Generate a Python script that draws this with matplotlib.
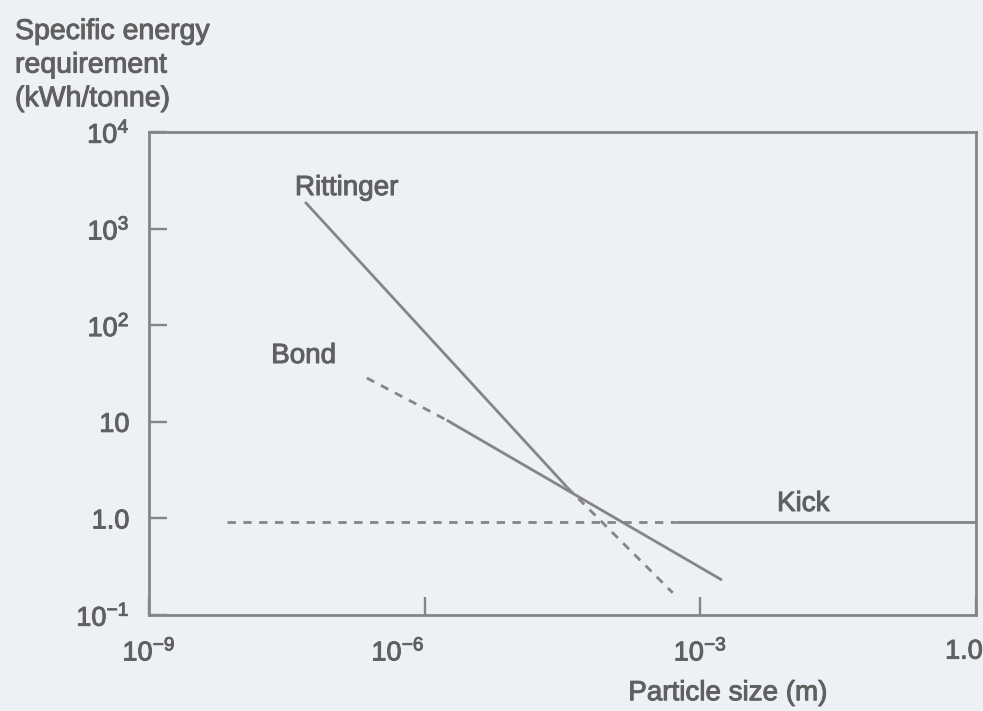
import numpy as np
import matplotlib
matplotlib.use("Agg")
import matplotlib.pyplot as plt
import matplotlib.patheffects as pe
from matplotlib.transforms import ScaledTranslation

plt.rcParams['font.family'] = ['Liberation Sans', 'DejaVu Sans']
plt.rcParams['mathtext.fontset'] = 'custom'
plt.rcParams['mathtext.rm'] = 'Liberation Sans'
plt.rcParams['mathtext.it'] = 'Liberation Sans:italic'
plt.rcParams['mathtext.bf'] = 'Liberation Sans:bold'

# comminution laws: knots along each line (particle size in m, energy in kWh/tonne)
rittinger_size = [5.0e-8, 3.55e-5, 5.0e-4]
rittinger_energy = [1885, 2.1, 0.17]
rittinger_style = ['-', '--']

bond_size = [2.35e-7, 1.74e-6, 1.72e-3]
bond_energy = [28.4, 10.4, 0.23]
bond_style = ['--', '-']

kick_size = [7.1e-9, 5.5e-4, 1.0]
kick_energy = [0.92, 0.92, 0.92]
kick_style = ['--', '-']

xticks = [1e-9, 1e-6, 1e-3, 1.0]
xticklabels = [r'$10^{-9}$', r'$10^{-6}$', r'$10^{-3}$', '1.0']
yticks = [1e-1, 1.0, 10, 1e2, 1e3, 1e4]
yticklabels = [r'$10^{-1}$', '1.0', '10', r'$10^{2}$', r'$10^{3}$', r'$10^{4}$']

bg = '#edf0f5'
ink = '#606060'
linec = '#858585'
thick = [pe.withStroke(linewidth=0.7, foreground=ink)]

fig = plt.figure(figsize=(9.83, 7.11), dpi=100, facecolor=bg)
ax = fig.add_axes([0.1516, 0.135, 0.8413, 0.6793])
ax.set_facecolor(bg)
ax.set_xscale('log')
ax.set_yscale('log')
ax.set_xlim(1e-9, 1.0)
ax.set_ylim(1e-1, 1e4)


def draw_law(sizes, energies, styles):
    for i, st in enumerate(styles):
        ax.plot(sizes[i:i + 2], energies[i:i + 2], color=linec, lw=2.0,
                linestyle=st, dashes=(3.0, 2.7) if st == '--' else (None, None),
                solid_capstyle='butt')


draw_law(rittinger_size, rittinger_energy, rittinger_style)
draw_law(bond_size, bond_energy, bond_style)
draw_law(kick_size, kick_energy, kick_style)

for txt, xs, ys in [('Rittinger', 1.41e-7, 2630), ('Bond', 4.8e-8, 48), ('Kick', 1.32e-2, 1.41)]:
    ax.text(xs, ys, txt, fontsize=20, color=ink, ha='center', va='center',
            path_effects=thick)

ax.xaxis.set_minor_locator(matplotlib.ticker.NullLocator())
ax.yaxis.set_minor_locator(matplotlib.ticker.NullLocator())
ax.set_xticks(xticks)
ax.set_xticklabels(xticklabels)
ax.set_yticks(yticks)
ax.set_yticklabels(yticklabels)
ax.tick_params(axis='both', direction='in', length=13, width=1.7, color=linec,
               labelsize=19.5, labelcolor=ink)
ax.tick_params(axis='x', pad=17)
ax.tick_params(axis='y', pad=14)
xl = ax.get_xticklabels()
xl[1].set_ha('right')
# keep the last label inside the canvas
xl[3].set_transform(xl[3].get_transform() + ScaledTranslation(-12 / 100, 0, fig.dpi_scale_trans))
for lab in xl + ax.get_yticklabels():
    lab.set_path_effects(thick)

for sp in ax.spines.values():
    sp.set_color(linec)
    sp.set_linewidth(2.0)

ax.set_xlabel('Particle size (m)', fontsize=20, color=ink, va='top', path_effects=thick)
ax.xaxis.set_label_coords(0.70, -0.135)

fig.text(15 / 983, 1 - 19 / 711, 'Specific energy\nrequirement\n(kWh/tonne)',
         fontsize=20.5, color=ink, ha='left', va='top', linespacing=1.38,
         path_effects=thick)

fig.savefig('out.png', dpi=100, facecolor=bg)
